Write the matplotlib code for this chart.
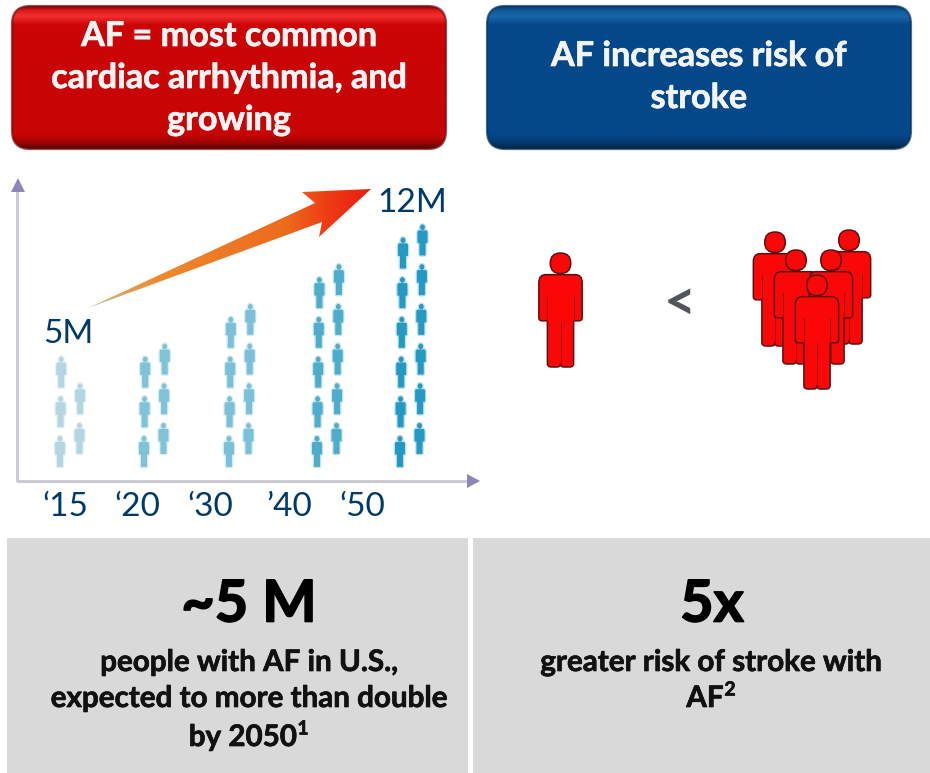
import numpy as np
import matplotlib
matplotlib.use('Agg')
import matplotlib.pyplot as plt
import matplotlib.patheffects as pe
from matplotlib.colors import LinearSegmentedColormap
from matplotlib.patches import FancyBboxPatch, PathPatch, Polygon, Rectangle
from matplotlib.path import Path

plt.rcParams['font.family'] = ['Lato', 'DejaVu Sans']

# projected patients per decade, one figure per million
years = ['\u201815', '\u201820', '\u201830', '\u201940', '\u201850']
millions = [5, 6, 8, 10, 12]
year_label_x = [65, 137, 210, 289, 362]
column_x = [60, 144, 229, 317, 400]
column_colors = ['#b4d6e2', '#7fc3d9', '#7ac0d8', '#4fadcc', '#2399c4']

BLACK = '#000000'
NAVY = '#003a6b'
GREY = '#d9d9d9'

RED_BOX = [(0.0, '#7a0c0c'), (0.03, '#e01818'), (0.07, '#f23030'), (0.13, '#cc0505'),
           (0.90, '#c80505'), (0.96, '#9a0404'), (1.0, '#4c0808')]
BLUE_BOX = [(0.0, '#0a3c6c'), (0.03, '#0f5a9a'), (0.07, '#1a66a8'), (0.13, '#04498a'),
            (0.90, '#04488a'), (0.96, '#043a6e'), (1.0, '#04203c')]

# a slight outline thickens the bold lettering
HEAVY = [pe.withStroke(linewidth=0.5, foreground='#f4f4f4')]
HEAVY_DARK = [pe.withStroke(linewidth=0.5, foreground='#111111')]
HEAVY_BIG = [pe.withStroke(linewidth=1.2, foreground=BLACK)]


def person_path(x, top, height, xscale=1.0):
    # unit figure: x centred, y running downwards from the top of the head
    M, L, C, Z = Path.MOVETO, Path.LINETO, Path.CURVE3, Path.CLOSEPOLY
    r = 0.09
    cy = r
    head = [(r, cy), (r, cy + r), (0, cy + r), (-r, cy + r), (-r, cy), (-r, cy - r), (0, cy - r),
            (r, cy - r), (r, cy), (r, cy)]
    head_codes = [M, C, C, C, C, C, C, C, C, Z]
    body = [(-0.13, 0.19), (0.13, 0.19), (0.19, 0.19), (0.19, 0.26), (0.19, 0.57), (0.19, 0.595),
            (0.16, 0.595), (0.13, 0.595), (0.115, 0.595), (0.115, 0.97), (0.115, 1.0), (0.08, 1.0),
            (0.03, 1.0), (0.0, 1.0), (0.0, 0.97), (0.0, 1.0), (-0.03, 1.0), (-0.08, 1.0),
            (-0.115, 1.0), (-0.115, 0.97), (-0.115, 0.595), (-0.13, 0.595), (-0.16, 0.595),
            (-0.19, 0.595), (-0.19, 0.57), (-0.19, 0.26), (-0.19, 0.19), (-0.13, 0.19), (-0.13, 0.19)]
    body_codes = [M, L, C, C, L, C, C, L, L, L, C, C, L, C, C, C, C, L, C, C, L, L, L, C, C, L, C, C, Z]
    verts = np.array(head + body, dtype=float) * [height * xscale, height] + [x, top]
    return Path(verts, head_codes + body_codes)


def red_person(ax, x, top, height=114, z=5):
    ax.add_patch(PathPatch(person_path(x, top, height), fc='#fa0808', ec='#5a1010', lw=1.1, zorder=z))
    # creases between the arms, torso and legs
    h = height
    for dx, y0, y1 in [(-0.115, 0.38, 0.595), (0.115, 0.38, 0.595), (0, 0.6, 0.97)]:
        ax.plot([x + dx * h, x + dx * h], [top + y0 * h, top + y1 * h], color='#a01010', lw=0.7, zorder=z)


def small_person(ax, x, top, col):
    # soft halo first, since these figures are fuzzy at this size
    ax.add_patch(PathPatch(person_path(x, top, 31, 0.85), fc='none', ec=col, lw=1.8, alpha=0.3, zorder=2))
    ax.add_patch(PathPatch(person_path(x, top, 31, 0.85), fc=col, ec='none', zorder=2))


def gradient_box(ax, x0, y0, x1, y1, stops, edge):
    cmap = LinearSegmentedColormap.from_list('box', stops)
    box = FancyBboxPatch((x0 + 18, y0 + 18), x1 - x0 - 36, y1 - y0 - 36,
                         boxstyle='round,pad=18,rounding_size=18', fc='none', ec='none')
    ax.add_patch(box)
    im = ax.imshow(np.linspace(0, 1, 256)[:, None], cmap=cmap, extent=(x0, x1, y1, y0), aspect='auto', zorder=2)
    im.set_clip_path(box)
    ax.add_patch(FancyBboxPatch((x0 + 18, y0 + 18), x1 - x0 - 36, y1 - y0 - 36,
                                boxstyle='round,pad=18,rounding_size=18', fc='none', ec=edge, lw=1.6, alpha=0.7,
                                zorder=2.5))


fig = plt.figure(figsize=(9.3, 7.73), dpi=100)
ax = fig.add_axes([0, 0, 1, 1])

# headline boxes
gradient_box(ax, 12, 6, 446, 149, RED_BOX, '#7a0a0a')
gradient_box(ax, 487, 6, 911, 149, BLUE_BOX, '#06305a')
for cx, lines, ys in [(229, ['AF = most common', 'cardiac arrhythmia, and', 'growing'], [36, 78, 120]),
                      (699, ['AF increases risk of', 'stroke'], [56, 98])]:
    for line, y in zip(lines, ys):
        ax.text(cx, y, line, color='#f4f4f4', fontsize=24.6, fontweight='bold', ha='center', va='center',
                zorder=3, path_effects=HEAVY)

# axes of the projection chart
ax.plot([17, 17, 470], [190, 481, 481], color='#c9c6d3', lw=2, zorder=1)
ax.add_patch(Polygon([(18, 178), (11, 192), (25, 192)], fc='#8f86b3', ec='none', zorder=1))
ax.add_patch(Polygon([(480, 481), (467, 474), (467, 488)], fc='#8f86b3', ec='none', zorder=1))

# one figure per million, stacked in two staggered columns that lean a little to the right
step = 39.7
lean = 0.6
for xc, n, col in zip(column_x, millions, column_colors):
    left = (n + 1) // 2
    right = n // 2
    for i in range(left):
        small_person(ax, xc + i * lean, 436 - i * step, col)
    for i in range(right):
        small_person(ax, xc + 19.5 + i * lean, 423 - i * step, col)

for x, label in zip(year_label_x, years):
    ax.text(x, 507, label, color=NAVY, fontsize=24, ha='center', va='center')
ax.text(68, 334, '5M', color=NAVY, fontsize=24, ha='center', va='center')
ax.text(412, 203, '12M', color=NAVY, fontsize=24, ha='center', va='center')

# growth arrow, shaded from the tail to the tip
arrow = Polygon([(88, 308), (315, 203), (302, 192), (371, 189), (319, 237), (322, 222)],
                fc='none', ec='none', zorder=4)
ax.add_patch(arrow)
arrow_cmap = LinearSegmentedColormap.from_list('arrow', [(0, '#cdbb96'), (0.22, '#ee8c30'), (0.7, '#ec6a1c'),
                                                        (0.85, '#ee3a14'), (1, '#e81a10')])
im = ax.imshow(np.linspace(0, 1, 256)[None, :], cmap=arrow_cmap, extent=(88, 372, 310, 188), aspect='auto', zorder=4)
im.set_clip_path(arrow)

# relative stroke risk
red_person(ax, 560.5, 253)
ax.text(680, 304, '<', color='#50565c', fontsize=40, fontweight='bold', ha='center', va='center')
red_person(ax, 775, 232, z=5)
red_person(ax, 849, 230, z=5)
red_person(ax, 796, 250, z=6)
red_person(ax, 831, 250, z=6)
red_person(ax, 817, 275, z=7)

# summary panels
ax.add_patch(Rectangle((7, 538), 461, 235, fc=GREY, ec='none'))
ax.add_patch(Rectangle((473, 538), 457, 235, fc=GREY, ec='none'))
ax.text(249, 605, '~5 M', color=BLACK, fontsize=41.5, fontweight='bold', ha='center', va='center',
        path_effects=HEAVY_BIG)
ax.text(712, 605, '5x', color=BLACK, fontsize=41.5, fontweight='bold', ha='center', va='center',
        path_effects=HEAVY_BIG)
for x, line, y in [(249, 'people with AF in U.S.,', 662), (249, 'expected to more than double', 698),
                   (243, 'by 2050', 737), (711, 'greater risk of stroke with', 662), (705, 'AF', 698)]:
    ax.text(x, y, line, color='#111111', fontsize=21.3, fontweight='bold', ha='center', va='center',
            path_effects=HEAVY_DARK)
ax.text(303, 729, '1', color='#111111', fontsize=14, fontweight='bold', ha='center', va='center',
        path_effects=HEAVY_DARK)
ax.text(730, 690, '2', color='#111111', fontsize=14, fontweight='bold', ha='center', va='center',
        path_effects=HEAVY_DARK)

ax.set_xlim(0, 930)
ax.set_ylim(773, 0)
ax.axis('off')
fig.savefig('out.png', dpi=100, facecolor='white')
